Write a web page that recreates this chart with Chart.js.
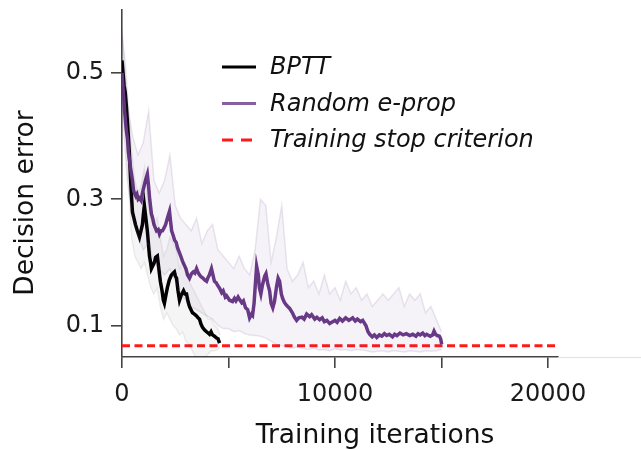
<!DOCTYPE html>
<html>
<head>
<meta charset="utf-8">
<script src="https://cdn.jsdelivr.net/npm/chart.js@4.4.1/dist/chart.umd.min.js"></script>
<style>
    body { margin: 0; background: #fff; }
    #wrap { width: 641px; height: 450px; }
</style>
</head>
<body>
<div id="wrap"><canvas id="errorChart" width="641" height="450"></canvas></div>
<script>
// BPTT mean decision error
const bpttIters = [0, 50, 100, 150, 200, 280, 350, 420, 490, 560, 630, 720, 820, 890, 960, 1000, 1050, 1120, 1190, 1240, 1290, 1340, 1380, 1450, 1520, 1580, 1660, 1730, 1800, 1880, 1940, 1990, 2060, 2130, 2220, 2320, 2400, 2460, 2510, 2560, 2630, 2700, 2780, 2890, 2960, 3030, 3100, 3170, 3240, 3310, 3400, 3500, 3570, 3640, 3710, 3780, 3870, 3970, 4040, 4110, 4180, 4250, 4340, 4440, 4510, 4580];
const bpttError = [0.52, 0.5, 0.48, 0.47, 0.45, 0.41, 0.37, 0.32, 0.28, 0.27, 0.26, 0.25, 0.24, 0.25, 0.26, 0.275, 0.29, 0.27, 0.25, 0.23, 0.21, 0.2, 0.19, 0.195, 0.2, 0.208, 0.21, 0.19, 0.17, 0.155, 0.14, 0.135, 0.148, 0.16, 0.172, 0.18, 0.183, 0.185, 0.178, 0.175, 0.155, 0.14, 0.148, 0.155, 0.15, 0.15, 0.138, 0.13, 0.125, 0.12, 0.118, 0.115, 0.112, 0.11, 0.102, 0.097, 0.093, 0.09, 0.088, 0.086, 0.09, 0.085, 0.083, 0.08, 0.079, 0.072];

// BPTT spread over runs
const bpttBandIters = [0, 150, 300, 450, 600, 750, 900, 1050, 1200, 1350, 1500, 1650, 1800, 1950, 2100, 2250, 2400, 2550, 2700, 2850, 3000, 3150, 3300, 3450, 3600, 3750, 3900, 4050, 4200, 4350, 4500, 4600];
const bpttUpper = [0.56, 0.52, 0.45, 0.38, 0.33, 0.31, 0.32, 0.35, 0.3, 0.27, 0.26, 0.27, 0.24, 0.21, 0.22, 0.24, 0.23, 0.22, 0.19, 0.2, 0.19, 0.17, 0.16, 0.15, 0.14, 0.13, 0.12, 0.11, 0.11, 0.1, 0.095, 0.085];
const bpttLower = [0.48, 0.42, 0.33, 0.24, 0.21, 0.2, 0.19, 0.2, 0.18, 0.16, 0.15, 0.16, 0.13, 0.11, 0.12, 0.11, 0.1, 0.095, 0.085, 0.09, 0.075, 0.07, 0.06, 0.05, 0.045, 0.04, 0.05, 0.055, 0.06, 0.06, 0.062, 0.065];

// Random e-prop mean decision error
const epropIters = [0, 60, 120, 200, 260, 300, 360, 400, 490, 540, 580, 650, 700, 760, 820, 900, 960, 1030, 1100, 1190, 1250, 1300, 1380, 1440, 1500, 1560, 1620, 1700, 1760, 1830, 1900, 1980, 2050, 2130, 2230, 2280, 2330, 2400, 2470, 2540, 2610, 2700, 2780, 2840, 2920, 3000, 3080, 3170, 3260, 3350, 3420, 3500, 3570, 3640, 3720, 3800, 3880, 3970, 4040, 4100, 4200, 4270, 4340, 4420, 4500,
    4580, 4680, 4750, 4850, 4910, 5050, 5190, 5280, 5350, 5450, 5520, 5620, 5700, 5800, 5900, 5990, 6080, 6130, 6200, 6250, 6320, 6400, 6450, 6520, 6600, 6700, 6760, 6850, 6930, 7000, 7080, 7160, 7250, 7330, 7400, 7480, 7540, 7620, 7700, 7780,
    7870, 8000, 8100, 8200, 8300, 8450, 8550, 8670, 8810, 8900, 9050, 9150, 9280, 9400, 9500, 9620, 9750, 9850, 10000, 10100, 10220, 10350, 10500, 10650, 10830, 10950, 11050, 11200, 11300, 11450, 11550, 11630, 11750, 11850, 11960, 12080, 12200, 12320, 12430, 12550, 12700, 12800, 12910, 13050, 13200, 13350, 13510, 13650, 13800, 13900, 14000, 14120, 14220, 14300, 14470, 14580, 14650, 14720, 14800, 14900, 14960, 15010];
const epropError = [0.5, 0.47, 0.44, 0.41, 0.395, 0.375, 0.36, 0.35, 0.33, 0.315, 0.31, 0.305, 0.308, 0.3, 0.302, 0.298, 0.31, 0.32, 0.33, 0.34, 0.32, 0.3, 0.277, 0.27, 0.26, 0.255, 0.25, 0.252, 0.245, 0.25, 0.25, 0.255, 0.26, 0.27, 0.281, 0.265, 0.25, 0.243, 0.235, 0.232, 0.223, 0.215, 0.208, 0.202, 0.196, 0.19, 0.18, 0.175, 0.182, 0.185, 0.183, 0.19, 0.184, 0.18, 0.177, 0.175, 0.172, 0.17, 0.176, 0.18, 0.19, 0.18, 0.17, 0.168, 0.163,
    0.159, 0.152, 0.155, 0.145, 0.147, 0.14, 0.138, 0.143, 0.139, 0.145, 0.141, 0.136, 0.139, 0.128, 0.125, 0.112, 0.118, 0.116, 0.135, 0.16, 0.194, 0.18, 0.16, 0.15, 0.165, 0.178, 0.182, 0.165, 0.155, 0.135, 0.128, 0.138, 0.16, 0.175, 0.17, 0.15, 0.143, 0.137, 0.133, 0.13,
    0.127, 0.12, 0.113, 0.108, 0.112, 0.113, 0.11, 0.118, 0.114, 0.117, 0.11, 0.113, 0.109, 0.112, 0.106, 0.108, 0.103, 0.105, 0.108, 0.105, 0.111, 0.107, 0.112, 0.108, 0.112, 0.107, 0.11, 0.106, 0.108, 0.1, 0.09, 0.086, 0.082, 0.085, 0.081, 0.085, 0.083, 0.087, 0.084, 0.086, 0.082, 0.086, 0.084, 0.088, 0.085, 0.087, 0.084, 0.086, 0.083, 0.087, 0.085, 0.088, 0.084, 0.086, 0.083, 0.085, 0.091, 0.086, 0.084, 0.083, 0.079, 0.07];

// Random e-prop spread over runs
const epropBandIters = [0, 250, 500, 750, 1000, 1250, 1500, 1750, 2000, 2250, 2500, 2750, 3000, 3250, 3500, 3750, 4000, 4250, 4500, 4750, 5000, 5250, 5500, 5750, 6000, 6250, 6500, 6750, 7000, 7250, 7500, 7750, 8000, 8250, 8500, 8750, 9000, 9250, 9500, 9750, 10000, 10250, 10500, 10750, 11000, 11250, 11500, 11750, 12000, 12250, 12500, 12750, 13000, 13250, 13500, 13750, 14000, 14250, 14500, 14750, 15000];
const epropUpper = [0.57, 0.45, 0.4, 0.37, 0.39, 0.44, 0.33, 0.31, 0.33, 0.37, 0.29, 0.27, 0.26, 0.25, 0.27, 0.23, 0.25, 0.26, 0.22, 0.21, 0.2, 0.19, 0.21, 0.19, 0.18, 0.22, 0.3, 0.29, 0.2, 0.24, 0.29, 0.19, 0.17, 0.18, 0.2, 0.16, 0.17, 0.15, 0.18, 0.15, 0.16, 0.14, 0.17, 0.15, 0.16, 0.14, 0.15, 0.13, 0.14, 0.15, 0.14, 0.15, 0.16, 0.13, 0.15, 0.14, 0.15, 0.12, 0.13, 0.11, 0.09];
const epropLower = [0.45, 0.33, 0.27, 0.24, 0.22, 0.23, 0.2, 0.19, 0.18, 0.19, 0.17, 0.15, 0.14, 0.13, 0.125, 0.12, 0.115, 0.11, 0.1, 0.095, 0.095, 0.09, 0.092, 0.087, 0.085, 0.084, 0.083, 0.08, 0.075, 0.07, 0.068, 0.066, 0.064, 0.066, 0.063, 0.062, 0.064, 0.061, 0.062, 0.06, 0.063, 0.061, 0.062, 0.06, 0.062, 0.061, 0.06, 0.058, 0.059, 0.06, 0.058, 0.06, 0.059, 0.058, 0.06, 0.059, 0.058, 0.06, 0.059, 0.06, 0.062];

// Stop criterion
const stopLevel = 0.068;
const stopRange = [0, 20450];

// Axes
const xRange = [0, 20470];
const yRange = [0.05, 0.6];
const xTicks = [0, 5000, 10000, 15000, 20000];
const xTickLabels = ['0', '', '10000', '', '20000'];
const yTicks = [0.1, 0.3, 0.5];
const yTickLabels = ['0.1', '0.3', '0.5'];
const xTitle = 'Training iterations';
const yTitle = 'Decision error';

const purple = 'rgb(104, 58, 134)';
const FONT = "'DejaVu Sans', 'Liberation Sans', sans-serif";
const legendOrder = ['BPTT', 'Random e-prop', 'Training stop criterion'];

function pts(xs, ys) {
    return xs.map((x, i) => ({ x: x, y: ys[i] }));
}

function bandPair(xs, lo, hi, lineColor, fillColor) {
    return [
        { data: pts(xs, lo), borderColor: lineColor, borderWidth: 1.5, pointRadius: 0, fill: false },
        { data: pts(xs, hi), borderColor: lineColor, borderWidth: 1.5, pointRadius: 0, fill: '-1', backgroundColor: fillColor }
    ];
}

function noPadding(scale) {
    scale.paddingTop = 0;
    scale.paddingBottom = 0;
    scale.paddingLeft = 0;
    scale.paddingRight = 0;
}

// Legend and axis titles, placed like the original figure
const figureText = {
    id: 'figureText',
    afterDraw(chart) {
        const ctx = chart.ctx;
        const area = chart.chartArea;
        const items = chart.data.datasets
            .filter(d => d.label)
            .sort((a, b) => legendOrder.indexOf(a.label) - legendOrder.indexOf(b.label));
        ctx.save();

        ctx.font = 'italic 24px ' + FONT;
        ctx.textBaseline = 'middle';
        ctx.textAlign = 'left';
        ctx.fillStyle = '#111';
        items.forEach((d, i) => {
            const y = 67 + i * 36.5;
            ctx.beginPath();
            ctx.strokeStyle = d.legendColor || d.borderColor;
            ctx.lineWidth = 3;
            ctx.setLineDash(d.legendDash || []);
            ctx.moveTo(222, y);
            ctx.lineTo(256, y);
            ctx.stroke();
            ctx.setLineDash([]);
            ctx.fillText(d.label, 270, y + 1);
        });

        ctx.font = '26.5px ' + FONT;
        ctx.textBaseline = 'alphabetic';
        ctx.textAlign = 'center';
        ctx.fillText(xTitle, 375, 443);
        ctx.translate(33, 203);
        ctx.rotate(-Math.PI / 2);
        ctx.fillText(yTitle, 0, 0);
        ctx.setTransform(1, 0, 0, 1, 0, 0);

        // faint continuation of the bottom frame
        ctx.beginPath();
        ctx.strokeStyle = '#e2e2e2';
        ctx.lineWidth = 1;
        ctx.moveTo(area.right, area.bottom + 0.5);
        ctx.lineTo(chart.width, area.bottom + 0.5);
        ctx.stroke();
        ctx.restore();
    }
};

const datasets = [].concat(
    bandPair(epropBandIters, epropLower, epropUpper, 'rgba(104, 58, 134, 0.13)', 'rgba(104, 58, 134, 0.06)'),
    bandPair(bpttBandIters, bpttLower, bpttUpper, 'rgba(0, 0, 0, 0.07)', 'rgba(0, 0, 0, 0.04)'),
    [
        {
            label: 'Random e-prop', legendColor: 'rgba(104, 58, 134, 0.8)',
            data: pts(epropIters, epropError), borderColor: purple, borderWidth: 3.5, pointRadius: 0, fill: false
        },
        {
            label: 'BPTT',
            data: pts(bpttIters, bpttError), borderColor: '#000', borderWidth: 3.5, pointRadius: 0, fill: false
        },
        {
            label: 'Training stop criterion', legendDash: [11, 8],
            data: pts(stopRange, [stopLevel, stopLevel]), borderColor: '#ff1a1a', borderWidth: 3,
            borderDash: [8, 4.5], pointRadius: 0, fill: false
        }
    ]
);

const ctx = document.getElementById('errorChart').getContext('2d');
new Chart(ctx, {
    type: 'line',
    data: { datasets: datasets },
    options: {
        responsive: false,
        animation: false,
        devicePixelRatio: 1,
        layout: { padding: { left: 0, right: 83, top: 10, bottom: 0 } },
        plugins: {
            legend: { display: false },
            tooltip: { enabled: false }
        },
        scales: {
            x: {
                type: 'linear',
                min: xRange[0],
                max: xRange[1],
                afterFit: scale => { scale.height = 93; noPadding(scale); },
                afterBuildTicks: scale => { scale.ticks = xTicks.map(v => ({ value: v })); },
                border: { display: true, color: '#444', width: 1.6 },
                grid: { drawOnChartArea: false, drawTicks: true, tickLength: 11, color: '#444', lineWidth: 1.6 },
                ticks: {
                    autoSkip: false,
                    maxRotation: 0,
                    padding: 12,
                    color: '#1a1a1a',
                    font: { family: FONT, size: 24 },
                    callback: (v, i) => xTickLabels[i]
                }
            },
            y: {
                type: 'linear',
                min: yRange[0],
                max: yRange[1],
                afterFit: scale => { scale.width = 122; noPadding(scale); },
                afterBuildTicks: scale => { scale.ticks = yTicks.map(v => ({ value: v })); },
                border: { display: true, color: '#444', width: 1.6 },
                grid: { drawOnChartArea: false, drawTicks: true, tickLength: 11, color: '#444', lineWidth: 1.6 },
                ticks: {
                    padding: 7,
                    color: '#1a1a1a',
                    font: { family: FONT, size: 24 },
                    callback: (v, i) => yTickLabels[i]
                }
            }
        }
    },
    plugins: [figureText]
});
</script>
</body>
</html>
